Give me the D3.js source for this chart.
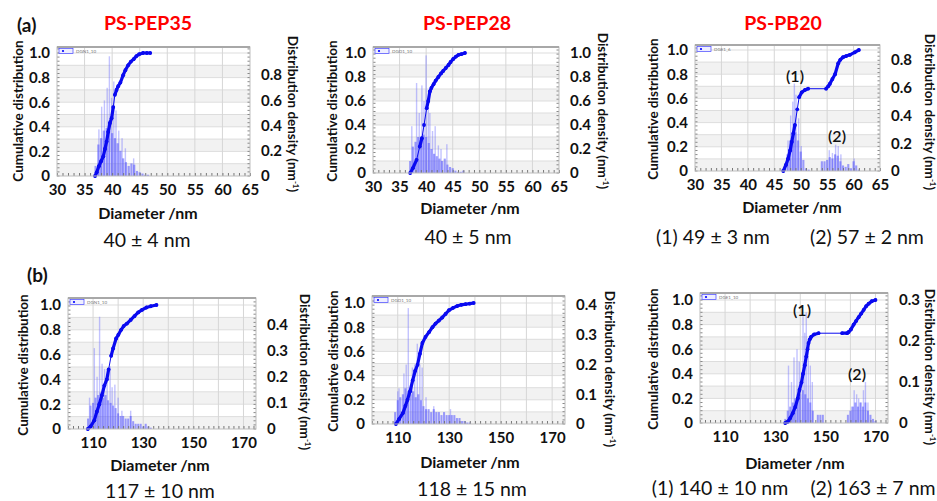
<!DOCTYPE html>
<html><head><meta charset="utf-8">
<script src="https://cdn.jsdelivr.net/npm/d3@7"></script>
<style>
body{margin:0;background:#fff}
svg{display:block;font-family:Lato,"Open Sans",sans-serif}
</style>
</head><body>
<svg id="fig" width="937" height="501"></svg>
<script>
// ---------- data ----------
var xTicksA = [30,35,40,45,50,55,60,65];
var xTicksB = [110,130,150,170];
var leftTicks = [0,0.2,0.4,0.6,0.8,1.0];

// (a) PS-PEP35
var a1CumX = [36.9,37.2,37.6,38.0,38.4,38.7,39.0,39.3,39.6,39.9,40.2,40.5,40.8,41.1,41.5,42.0,42.4,42.9,43.4,43.9,44.4,44.9,45.6,46.3,46.9];
var a1CumY = [0,0.03,0.08,0.12,0.16,0.22,0.28,0.36,0.43,0.47,0.56,0.66,0.70,0.73,0.76,0.82,0.86,0.90,0.93,0.95,0.975,0.99,1.0,1.0,1.0];
var a1BarX = [37.0,37.5,38.0,38.5,39.0,39.5,40.0,40.5,41.0,41.5,42.0,42.5,43.0,43.5,44.0,44.5,45.0,45.5,46.0,46.5];
var a1BarY = [0.08,0.25,0.30,0.36,0.38,0.44,0.34,0.30,0.26,0.20,0.14,0.11,0.08,0.10,0.09,0.04,0.03,0.02,0.01,0.01];
var a1SpikeX = [37.6,38.1,38.6,39.1,39.5,39.9,40.3,40.7,41.2,41.8,42.4,43.9];
var a1SpikeY = [0.37,0.55,0.60,0.70,0.95,0.62,0.75,0.52,0.36,0.30,0.22,0.14];
var a1Right = [0,0.2,0.4,0.6,0.8];

// (a) PS-PEP28
var a2CumX = [37.0,37.5,38.2,38.8,39.2,39.6,40.1,40.4,40.7,41.0,41.4,41.8,42.3,42.8,43.2,43.7,44.2,44.6,45.1,45.6,46.1,46.6,47.3];
var a2CumY = [0,0.04,0.11,0.22,0.29,0.40,0.54,0.60,0.68,0.71,0.74,0.77,0.80,0.83,0.85,0.875,0.90,0.925,0.95,0.97,0.985,0.99,1.0];
var a2BarX = [37.0,37.5,38.0,38.5,39.0,39.5,40.0,40.5,41.0,41.5,42.0,42.5,43.0,43.5,44.0,44.5,45.0,45.5,46.0,46.5,47.0];
var a2BarY = [0.10,0.22,0.26,0.30,0.28,0.32,0.30,0.25,0.20,0.16,0.14,0.12,0.10,0.12,0.07,0.05,0.04,0.02,0.01,0.01,0.02];
var a2SpikeX = [37.3,38.2,38.7,39.2,39.6,40.0,40.4,40.7,41.2,41.7,42.3,42.8,43.9];
var a2SpikeY = [0.39,0.75,0.50,0.73,0.60,0.98,0.55,0.50,0.35,0.39,0.23,0.20,0.24];
var a2Right = [0,0.2,0.4,0.6,0.8,1.0];

// (a) PS-PB20
var a3CumX = [46.7,47.2,47.6,48.0,48.3,48.6,48.9,49.35,49.7,50.2,50.8,51.4,54.8,55.2,55.5,56.0,56.5,57.1,57.5,58.0,58.6,59.3,60.2,61.0];
var a3CumY = [0,0.05,0.10,0.17,0.24,0.31,0.38,0.51,0.61,0.65,0.67,0.68,0.68,0.70,0.72,0.76,0.80,0.89,0.92,0.94,0.95,0.96,0.98,1.0];
var a3BarX = [46.5,47.0,47.5,48.0,48.5,49.0,49.5,50.0,50.5,51.0,51.5,54.0,54.5,55.0,55.5,56.0,56.5,57.0,57.5,58.0,58.5,59.0,59.5,60.0,60.5,61.0];
var a3BarY = [0.01,0.04,0.12,0.22,0.26,0.28,0.22,0.14,0.08,0.02,0.01,0.07,0.07,0.08,0.10,0.09,0.12,0.11,0.07,0.04,0.03,0.05,0.02,0.07,0.04,0.01];
var a3SpikeX = [47.6,48.1,48.5,48.8,49.1,49.6,50.1,55.4,56.0,56.6,57.1,57.6,60.1];
var a3SpikeY = [0.22,0.40,0.50,0.63,0.55,0.38,0.18,0.15,0.13,0.19,0.18,0.12,0.09];
var a3Right = [0,0.2,0.4,0.6,0.8];

// (b) PS-PEP35
var b1CumX = [107.9,109.0,110.5,111.5,112.5,113.5,114.5,115.5,116.2,117.2,118.0,119.2,120.1,121.2,122.2,123.5,125.0,126.5,128.0,129.5,131.3,133.0,135.3];
var b1CumY = [0,0.02,0.07,0.14,0.20,0.27,0.35,0.40,0.48,0.59,0.65,0.73,0.76,0.80,0.83,0.85,0.88,0.91,0.94,0.96,0.98,0.99,1.0];
var b1BarX = [108,109,110,111,112,113,114,115,116,117,118,119,120,121,122,123,124,125,126,127,128,129,130,131,132,133];
var b1BarY = [0.04,0.09,0.10,0.12,0.13,0.14,0.12,0.13,0.11,0.10,0.09,0.08,0.06,0.05,0.05,0.04,0.04,0.05,0.03,0.02,0.02,0.02,0.01,0.02,0.01,0.005];
var b1SpikeX = [108.6,110.5,111.6,112.6,113.6,114.6,115.6,116.8,117.6,118.7,120.0,121.5,125.0];
var b1SpikeY = [0.12,0.31,0.20,0.43,0.25,0.23,0.18,0.24,0.16,0.17,0.12,0.07,0.07];
var b1Right = [0,0.1,0.2,0.3,0.4];

// (b) PS-PEP28
var b2CumX = [109.3,110.5,112.0,113.0,113.8,114.8,115.8,116.8,117.7,118.6,119.6,120.8,122.2,123.5,124.7,126.0,127.3,128.6,129.9,131.5,133.1,134.7,136.3,138.0,139.5];
var b2CumY = [0,0.04,0.09,0.15,0.20,0.27,0.36,0.44,0.49,0.58,0.67,0.72,0.76,0.80,0.83,0.855,0.88,0.91,0.94,0.96,0.975,0.985,0.99,0.995,1.0];
var b2BarX = [109,110,111,112,113,114,115,116,117,118,119,120,121,122,123,124,125,126,127,128,129,130,131,132,133,134,135,136,137,138];
var b2BarY = [0.04,0.08,0.09,0.10,0.12,0.11,0.10,0.11,0.09,0.10,0.08,0.06,0.05,0.05,0.04,0.05,0.04,0.04,0.03,0.04,0.03,0.03,0.03,0.03,0.02,0.02,0.01,0.01,0.005,0.005];
var b2SpikeX = [110.0,110.5,112.4,113.3,114.1,115.7,116.6,117.6,118.6,119.5,121.0,124.0,130.5];
var b2SpikeY = [0.11,0.12,0.17,0.20,0.39,0.19,0.20,0.27,0.20,0.19,0.09,0.06,0.05];
var b2Right = [0,0.1,0.2,0.3,0.4];

// (b) PS-PB20
var b3CumX = [134.0,135.0,136.0,137.0,138.0,139.0,139.7,140.5,141.1,141.8,142.4,142.9,143.3,143.8,144.3,145.5,147.3,156.7,158.7,159.3,160.2,161.3,162.3,163.3,164.3,165.3,166.3,167.3,168.5,170.0];
var b3CumY = [0,0.01,0.04,0.08,0.13,0.20,0.27,0.33,0.40,0.47,0.54,0.60,0.65,0.68,0.70,0.72,0.73,0.73,0.73,0.74,0.76,0.80,0.83,0.86,0.89,0.92,0.95,0.97,0.99,1.0];
var b3BarX = [134,135,136,137,138,139,140,141,142,143,144,145,147,148,149,159,160,161,162,163,164,165,166,167,168,169,170];
var b3BarY = [0.01,0.03,0.04,0.05,0.06,0.07,0.07,0.08,0.07,0.06,0.05,0.03,0.02,0.02,0.02,0.02,0.03,0.04,0.05,0.04,0.05,0.04,0.05,0.03,0.02,0.01,0.005];
var b3SpikeX = [135.3,136.5,137.5,138.7,139.6,141.1,141.8,142.4,143.2,144.0,144.8,160.5,161.5,162.5,163.3,164.2,165.2,166.0,167.0];
var b3SpikeY = [0.14,0.10,0.16,0.18,0.15,0.26,0.22,0.27,0.20,0.14,0.10,0.04,0.08,0.07,0.06,0.05,0.08,0.10,0.05];
var b3Right = [0,0.1,0.2,0.3];

// ---------- panel layout ----------
var panels = [
  {legend:"DGN1_10", xd:[30,65], xt:xTicksA, grid:[35,40,45,50,55,60], minor:1, step:0.5,
   x0:57, x1:250, yTop:47, y0:176, y1:53, rMax:0.976, right:a1Right,
   cx:a1CumX, cy:a1CumY, bx:a1BarX, by:a1BarY, sx:a1SpikeX, sy:a1SpikeY,
   ltX:18, ltY:111, rtX:293, rtY:114, xtX:148, xtY:213},
  {legend:"DGD1_10", xd:[30,65], xt:xTicksA, grid:[35,40,45,50,55,60], minor:1, step:0.5,
   x0:373, x1:559, yTop:47, y0:173, y1:53, rMax:1.0, right:a2Right,
   cx:a2CumX, cy:a2CumY, bx:a2BarX, by:a2BarY, sx:a2SpikeX, sy:a2SpikeY,
   ltX:332, ltY:111, rtX:603, rtY:111, xtX:470, xtY:208},
  {legend:"DGE1_6", xd:[30,65], xt:xTicksA, grid:[35,40,45,50,55,60], minor:1, step:0.5,
   x0:695, x1:880, yTop:45, y0:171, y1:50, rMax:0.872, right:a3Right,
   cx:a3CumX, cy:a3CumY, bx:a3BarX, by:a3BarY, sx:a3SpikeX, sy:a3SpikeY,
   ltX:653, ltY:109, rtX:930, rtY:112, xtX:792, xtY:207},
  {legend:"DGN1_10", xd:[100,175], xt:xTicksB, grid:[110,120,130,140,150,160,170], minor:2, step:1,
   x0:68, x1:256, yTop:298, y0:429, y1:305, rMax:0.475, right:b1Right,
   cx:b1CumX, cy:b1CumY, bx:b1BarX, by:b1BarY, sx:b1SpikeX, sy:b1SpikeY,
   ltX:23, ltY:365, rtX:305, rtY:372, xtX:160, xtY:465},
  {legend:"DGD1_10", xd:[100,175], xt:xTicksB, grid:[110,120,130,140,150,160,170], minor:2, step:1,
   x0:372, x1:565, yTop:296, y0:424, y1:303, rMax:0.407, right:b2Right,
   cx:b2CumX, cy:b2CumY, bx:b2BarX, by:b2BarY, sx:b2SpikeX, sy:b2SpikeY,
   ltX:333, ltY:361, rtX:610, rtY:369, xtX:470, xtY:462},
  {legend:"DGE1_10", xd:[100,175], xt:xTicksB, grid:[110,120,130,140,150,160,170], minor:2, step:1,
   x0:700, x1:888, yTop:293, y0:423, y1:300, rMax:0.30, right:b3Right,
   cx:b3CumX, cy:b3CumY, bx:b3BarX, by:b3BarY, sx:b3SpikeX, sy:b3SpikeY,
   ltX:653, ltY:359, rtX:930, rtY:367, xtX:795, xtY:463}
];

var svg = d3.select("#fig");
var fmt = function(d){ return d === 0 ? "0" : d3.format(".1f")(d); };

function drawPanel(p){
  var g = svg.append("g");
  var x = d3.scaleLinear().domain(p.xd).range([p.x0, p.x1]);
  var yL = d3.scaleLinear().domain([0,1]).range([p.y0, p.y1]);
  var yR = d3.scaleLinear().domain([0,p.rMax]).range([p.y0, p.y1]);

  // background bands
  g.append("rect").attr("x",p.x0).attr("y",p.yTop).attr("width",p.x1-p.x0).attr("height",p.y0-p.yTop).attr("fill","#fff");
  g.selectAll(".band").data([0,0.2,0.4,0.6,0.8]).enter().append("rect")
    .attr("x",p.x0).attr("width",p.x1-p.x0)
    .attr("y",function(d){return yL(d+0.1);})
    .attr("height",function(d){return yL(d)-yL(d+0.1);})
    .attr("fill","#f2f2f2");
  g.selectAll(".hg").data(d3.range(1,11)).enter().append("line")
    .attr("x1",p.x0).attr("x2",p.x1)
    .attr("y1",function(d){return yL(d/10);}).attr("y2",function(d){return yL(d/10);})
    .attr("stroke","#dddddd").attr("stroke-width",1);
  g.selectAll(".vg").data(p.grid).enter().append("line")
    .attr("x1",function(d){return x(d);}).attr("x2",function(d){return x(d);})
    .attr("y1",p.yTop).attr("y2",p.y0)
    .attr("stroke","#d6d6d6").attr("stroke-width",1);

  // histogram
  var bw = x(p.xd[0]+p.step*0.8)-x(p.xd[0]);
  g.selectAll(".sp").data(p.sx).enter().append("rect")
    .attr("x",function(d){return x(d)-0.7;}).attr("width",1.4)
    .attr("y",function(d,i){return yR(p.sy[i]);})
    .attr("height",function(d,i){return p.y0-yR(p.sy[i]);})
    .attr("fill","#6a6aff").attr("opacity",0.4);
  g.selectAll(".bar").data(p.bx).enter().append("rect")
    .attr("x",function(d){return x(d)-bw/2;}).attr("width",bw)
    .attr("y",function(d,i){return yR(p.by[i]);})
    .attr("height",function(d,i){return p.y0-yR(p.by[i]);})
    .attr("fill","#5050ff").attr("opacity",0.55);

  // minor ticks inside
  g.append("g").attr("transform","translate(0,"+p.y0+")")
    .call(d3.axisBottom(x).tickValues(d3.range(p.xd[0],p.xd[1]+0.01,p.minor)).tickSize(-3).tickFormat(""))
    .call(function(s){ s.select(".domain").remove(); s.selectAll("line").attr("stroke","#777"); });
  var yMinor = d3.range(0, (p.y0-p.yTop)/4.1).map(function(i){ return p.y0 - i*4.1; });
  g.selectAll(".lm").data(yMinor).enter().append("line")
    .attr("x1",p.x0).attr("x2",p.x0+2.5).attr("y1",function(d){return d;}).attr("y2",function(d){return d;})
    .attr("stroke","#888");
  g.selectAll(".rm").data(yMinor).enter().append("line")
    .attr("x1",p.x1-2.5).attr("x2",p.x1).attr("y1",function(d){return d;}).attr("y2",function(d){return d;})
    .attr("stroke","#888");

  // cumulative curve
  var pts = p.cx.map(function(d,i){ return [x(d), yL(p.cy[i])]; });
  g.selectAll(".seg").data(d3.pairs(pts)).enter().append("line")
    .attr("x1",function(d){return d[0][0];}).attr("y1",function(d){return d[0][1];})
    .attr("x2",function(d){return d[1][0];}).attr("y2",function(d){return d[1][1];})
    .attr("stroke","#0a0af0")
    .attr("stroke-width",function(d){ var l=Math.hypot(d[1][0]-d[0][0],d[1][1]-d[0][1]); return l>12?1:3.2; })
    .attr("stroke-linecap","round");
  g.selectAll(".pt").data(pts).enter().append("circle")
    .attr("cx",function(d){return d[0];}).attr("cy",function(d){return d[1];}).attr("r",1.9)
    .attr("fill","#0a0af0");

  // frame
  g.append("rect").attr("x",p.x0).attr("y",p.yTop).attr("width",p.x1-p.x0).attr("height",p.y0-p.yTop)
    .attr("fill","none").attr("stroke","#bdbdbd");
  g.append("line").attr("x1",p.x0).attr("x2",p.x1).attr("y1",p.yTop).attr("y2",p.yTop)
    .attr("stroke","#a8a8a8").attr("stroke-width",2);

  // legend
  g.append("rect").attr("x",p.x0+2).attr("y",p.yTop+1.5).attr("width",14).attr("height",5)
    .attr("fill","#eef").attr("stroke","#4444ff").attr("stroke-width",0.7);
  g.append("circle").attr("cx",p.x0+6).attr("cy",p.yTop+4).attr("r",1.1).attr("fill","#0000ff");
  g.append("text").attr("x",p.x0+19).attr("y",p.yTop+6).attr("font-size",4.5).attr("fill","#777").text(p.legend);

  // axes labels
  var lab = function(s){
    s.select(".domain").remove();
    s.attr("font-family",null).attr("font-size",15).attr("font-weight","bold");
    s.selectAll("text").attr("fill","#111");
  };
  g.append("g").attr("transform","translate("+p.x0+",0)")
    .call(d3.axisLeft(yL).tickValues(leftTicks).tickFormat(fmt).tickSize(0).tickPadding(7)).call(lab);
  g.append("g").attr("transform","translate("+p.x1+",0)")
    .call(d3.axisRight(yR).tickValues(p.right).tickFormat(fmt).tickSize(0).tickPadding(11)).call(lab);
  g.append("g").attr("transform","translate(0,"+p.y0+")")
    .call(d3.axisBottom(x).tickValues(p.xt).tickFormat(d3.format("d")).tickSize(0).tickPadding(8)).call(lab);

  // axis titles
  g.append("text").attr("transform","translate("+p.ltX+","+p.ltY+") rotate(-90)")
    .attr("text-anchor","middle").attr("dy","0.35em").attr("font-size",13.5).attr("font-weight","bold")
    .attr("fill","#111").text("Cumulative distribution");
  var rt = g.append("text").attr("transform","translate("+p.rtX+","+p.rtY+") rotate(90)")
    .attr("text-anchor","middle").attr("dy","0.35em").attr("font-size",13.5).attr("font-weight","bold").attr("fill","#111");
  rt.append("tspan").text("Distribution density (nm");
  rt.append("tspan").attr("font-size",8).attr("dy",-5).text("-1");
  rt.append("tspan").attr("dy",5).text(")");
  g.append("text").attr("x",p.xtX).attr("y",p.xtY).attr("dy","0.35em").attr("text-anchor","middle")
    .attr("font-size",16).attr("font-weight","bold").attr("fill","#111").text("Diameter /nm");
}

panels.forEach(drawPanel);

// titles and annotations
var titles = [["PS-PEP35",148,23],["PS-PEP28",467,23],["PS-PB20",783,23]];
svg.selectAll(".ttl").data(titles).enter().append("text")
  .attr("x",function(d){return d[1];}).attr("y",function(d){return d[2];}).attr("dy","0.35em")
  .attr("text-anchor","middle").attr("font-size",19.5).attr("font-weight","bold").attr("fill","#ff0000")
  .text(function(d){return d[0];});

var tags = [["(a)",17,25],["(b)",27,275]];
svg.selectAll(".tag").data(tags).enter().append("text")
  .attr("x",function(d){return d[1];}).attr("y",function(d){return d[2];}).attr("dy","0.35em")
  .attr("font-size",19).attr("font-weight","bold").attr("fill","#111").text(function(d){return d[0];});

var results = [["40 ± 4 nm",147,240],["40 ± 5 nm",468,237],["(1) 49 ± 3 nm",713,237],["(2) 57 ± 2 nm",867,237],
               ["117 ± 10 nm",160,491],["118 ± 15 nm",472,489],["(1) 140 ± 10 nm",720,488],["(2) 163 ± 7 nm",873,488]];
svg.selectAll(".res").data(results).enter().append("text")
  .attr("x",function(d){return d[1];}).attr("y",function(d){return d[2];}).attr("dy","0.35em")
  .attr("text-anchor","middle").attr("font-size",19.5).attr("fill","#111").text(function(d){return d[0];});

var peaks = [["(1)",795,76],["(2)",837,136],["(1)",802,310],["(2)",857,374]];
svg.selectAll(".pk").data(peaks).enter().append("text")
  .attr("x",function(d){return d[1];}).attr("y",function(d){return d[2];}).attr("dy","0.35em")
  .attr("text-anchor","middle").attr("font-size",16).attr("font-weight",600).attr("fill","#111").text(function(d){return d[0];});
</script>
</body></html>
